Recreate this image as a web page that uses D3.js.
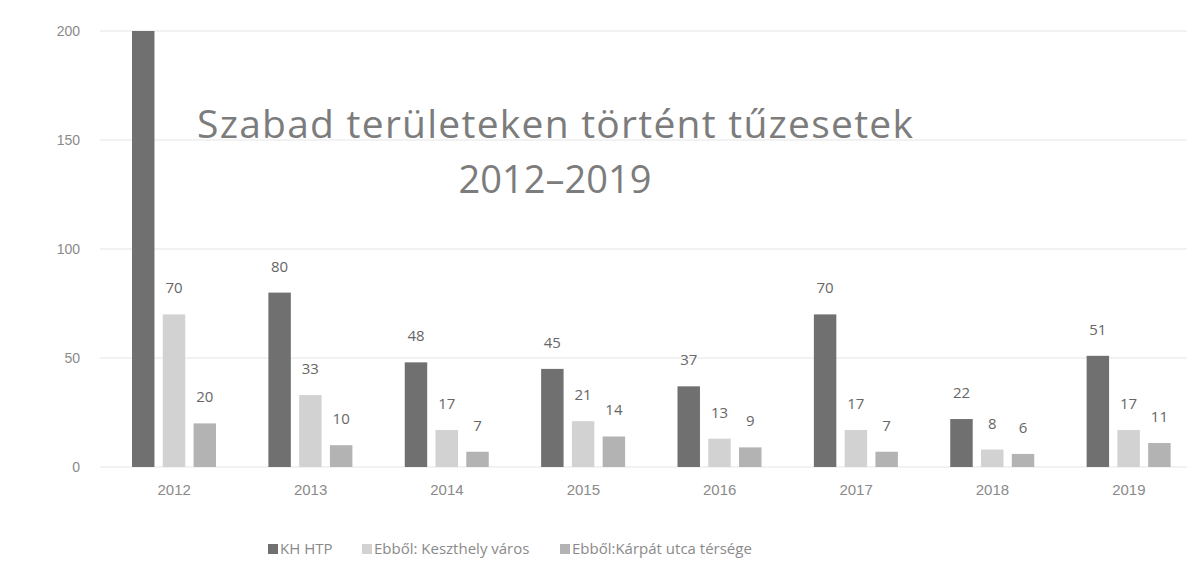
<!DOCTYPE html>
<html>
<head>
<meta charset="utf-8">
<script src="https://cdn.jsdelivr.net/npm/d3@7"></script>
<style>
  body { margin: 0; background: #fff; }
  svg { font-family: 'Open Sans', sans-serif; display: block; }
</style>
</head>
<body>
<div id="container"></div>
<script>
const w = 1187,
  h = 584;

const years = ['2012', '2013', '2014', '2015', '2016', '2017', '2018', '2019'];
const seriesNames = ['KH HTP', 'Ebből: Keszthely város', 'Ebből:Kárpát utca térsége'];
const khHtp = [200, 80, 48, 45, 37, 70, 22, 51];
const keszthely = [70, 33, 17, 21, 13, 17, 8, 17];
const karpat = [20, 10, 7, 14, 9, 7, 6, 11];
const yTicks = [0, 50, 100, 150, 200];
const colors = ['#707070', '#d2d2d2', '#b3b3b3'];

const series = [khHtp, keszthely, karpat];
// 2012 first bar has no label in the original
const showLabel = (s, i) => !(s === 0 && i === 0);

const svg = d3.select('#container').append('svg').attr('width', w).attr('height', h);

const xScale = d3.scaleBand().domain(years).range([106, 1197]);
const inner = d3.scaleBand().domain([0, 1, 2]).range([26, 110]).paddingInner(0.27);
const yScale = d3.scaleLinear().domain([0, 200]).range([467, 31]);

// gridlines
svg
  .append('g')
  .selectAll('line')
  .data(yTicks)
  .enter()
  .append('line')
  .attr('x1', 100)
  .attr('x2', w)
  .attr('y1', (d) => yScale(d))
  .attr('y2', (d) => yScale(d))
  .attr('stroke', '#eeeeee')
  .attr('stroke-width', 1.5);

const yAxis = d3.axisLeft(yScale).tickValues(yTicks).tickSize(0).tickPadding(0);
svg
  .append('g')
  .attr('transform', 'translate(80, 0)')
  .call(yAxis)
  .call((g) => g.select('.domain').remove())
  .selectAll('text')
  .attr('fill', '#8a8a8a')
  .style('font-size', '14px');

const xAxis = d3.axisBottom(xScale).tickSize(0).tickPadding(0);
svg
  .append('g')
  .attr('transform', 'translate(0, 484)')
  .call(xAxis)
  .call((g) => g.select('.domain').remove())
  .selectAll('text')
  .attr('fill', '#8a8a8a')
  .style('font-size', '15px');

// title
svg
  .append('text')
  .text('Szabad területeken történt tűzesetek')
  .attr('x', 555)
  .attr('y', 138)
  .attr('text-anchor', 'middle')
  .attr('fill', '#7c7c7c')
  .attr('textLength', 716)
  .style('font-size', '39px');
svg
  .append('text')
  .text('2012–2019')
  .attr('x', 555)
  .attr('y', 193)
  .attr('text-anchor', 'middle')
  .attr('fill', '#7c7c7c')
  .style('font-size', '38px');

series.forEach((vals, s) => {
  const g = svg.append('g');
  const rows = vals.map((v, i) => ({ v: v, i: i }));
  g.selectAll('rect')
    .data(rows)
    .enter()
    .append('rect')
    .attr('x', (d) => xScale(years[d.i]) + inner(s))
    .attr('y', (d) => yScale(d.v))
    .attr('width', inner.bandwidth())
    .attr('height', (d) => yScale(0) - yScale(d.v))
    .attr('fill', colors[s]);
  g.selectAll('text')
    .data(rows.filter((d) => showLabel(s, d.i)))
    .enter()
    .append('text')
    .text((d) => d.v)
    .attr('x', (d) => xScale(years[d.i]) + inner(s) + inner.bandwidth() / 2)
    .attr('y', (d) => yScale(d.v) - 21)
    .attr('text-anchor', 'middle')
    .attr('fill', '#666')
    .style('font-size', '15px');
});

// legend
const legendX = [268, 362, 560];
const legend = svg.append('g').attr('transform', 'translate(0, 550)');
seriesNames.forEach((name, s) => {
  legend
    .append('rect')
    .attr('x', legendX[s])
    .attr('y', -6)
    .attr('width', 10)
    .attr('height', 10)
    .attr('fill', colors[s]);
  legend
    .append('text')
    .text(name)
    .attr('x', legendX[s] + 12)
    .attr('y', 4)
    .attr('fill', '#8a8a8a')
    .style('font-size', '15px');
});
</script>
</body>
</html>
